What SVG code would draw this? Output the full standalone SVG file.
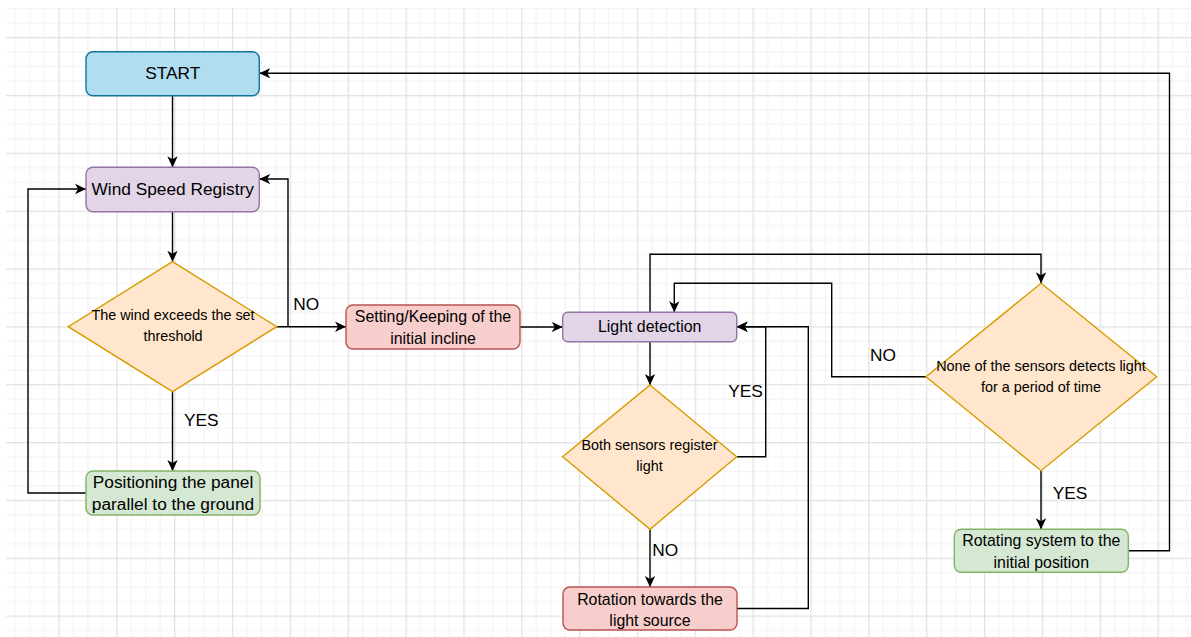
<svg xmlns="http://www.w3.org/2000/svg" width="1191" height="637" viewBox="0 0 1191 637">
  <defs>
    <pattern id="grid" patternUnits="userSpaceOnUse" x="0.5" y="37" width="57.85" height="57.85">
      <rect x="14.46" y="0" width="1.2" height="57.85" fill="#f3f3f3"/>
      <rect x="28.93" y="0" width="1.2" height="57.85" fill="#f3f3f3"/>
      <rect x="43.39" y="0" width="1.2" height="57.85" fill="#f3f3f3"/>
      <rect x="0" y="14.46" width="57.85" height="1.2" fill="#f3f3f3"/>
      <rect x="0" y="28.93" width="57.85" height="1.2" fill="#f3f3f3"/>
      <rect x="0" y="43.39" width="57.85" height="1.2" fill="#f3f3f3"/>
      <rect x="0" y="0" width="1.3" height="57.85" fill="#e2e2e2"/>
      <rect x="0" y="0" width="57.85" height="1.3" fill="#e2e2e2"/>
    </pattern>
    <marker id="arrow" markerUnits="userSpaceOnUse" markerWidth="12" markerHeight="12" viewBox="0 0 12 12" refX="11" refY="6" orient="auto">
      <path d="M0,0.8 L11,6 L0,11.2 L3,6 Z" fill="#000"/>
    </marker>
    <style>
      .conn { fill: none; stroke: #000; stroke-width: 1.4; }
      .arr { marker-end: url(#arrow); }
      .box { stroke-width: 1.4; }
      .blue { fill: #b1ddf0; stroke: #10739e; }
      .purple { fill: #e1d5e7; stroke: #9673a6; }
      .green { fill: #d5e8d4; stroke: #82b366; }
      .red { fill: #f8cecc; stroke: #b85450; }
      .orange { fill: #ffe6cc; stroke: #d79b00; }
      text { font-family: "Liberation Sans", Arial, sans-serif; fill: #000; text-anchor: middle; }
      .big { font-size: 17.3px; }
      .mid { font-size: 15.9px; }
      .small { font-size: 14.4px; }
      .lbl { font-size: 17.3px; text-anchor: start; }
    </style>
  </defs>

  <!-- canvas background with grid -->
  <rect x="0" y="0" width="1191" height="637" fill="#ffffff"/>
  <rect x="6" y="8" width="1185" height="629" fill="url(#grid)"/>

  <!-- connectors -->
  <g id="connectors">
    <path class="conn arr" d="M172.5,95.7 V167.3"/>
    <path class="conn arr" d="M172.5,211.7 V261.7"/>
    <path class="conn arr" d="M172.5,391.7 V471"/>
    <path class="conn arr" d="M86,493 H28 V189 H86"/>
    <path class="conn arr" d="M276.7,326.7 H346"/>
    <path class="conn arr" d="M288,326.7 V179 H259.3"/>
    <path class="conn arr" d="M520,327 H562.7"/>
    <path class="conn arr" d="M650,341.7 V385"/>
    <path class="conn arr" d="M736.7,456.7 H765.7 V326.7 H736.7"/>
    <path class="conn arr" d="M650,529.3 V587"/>
    <path class="conn arr" d="M737,608.5 H808.3 V326.7 H736.7"/>
    <path class="conn arr" d="M650,312.3 V254.3 H1041 V283.3"/>
    <path class="conn arr" d="M926,376.7 H831.7 V283.3 H674.3 V312.3"/>
    <path class="conn arr" d="M1041,470.7 V529.3"/>
    <path class="conn arr" d="M1128.3,550.8 H1169.5 V73.3 H259.3"/>
    <text class="lbl" x="184" y="426.3">YES</text>
    <text class="lbl" x="293.3" y="310.3">NO</text>
    <text class="lbl" x="728.3" y="397">YES</text>
    <text class="lbl" x="652.3" y="556.3">NO</text>
    <text class="lbl" x="870" y="361.3">NO</text>
    <text class="lbl" x="1052.7" y="498.5">YES</text>
  </g>

  <!-- nodes -->
  <g id="start">
    <rect class="box blue" x="86" y="51.7" width="173.3" height="44" rx="7"/>
    <text class="big" x="172.7" y="79">START</text>
  </g>
  <g id="wind-registry">
    <rect class="box purple" x="86" y="167.3" width="173.3" height="44.4" rx="7"/>
    <text class="big" x="172.7" y="195">Wind Speed Registry</text>
  </g>
  <g id="wind-threshold">
    <polygon class="box orange" points="172.5,261.7 276.7,326.7 172.5,391.7 68.3,326.7"/>
    <text class="small" x="173" y="319.5">The wind exceeds the set</text>
    <text class="small" x="173" y="341.2">threshold</text>
  </g>
  <g id="parallel-position">
    <rect class="box green" x="86" y="471" width="174" height="44" rx="7"/>
    <text class="big" x="173" y="488.4">Positioning the panel</text>
    <text class="big" x="173" y="510">parallel to the ground</text>
  </g>
  <g id="initial-incline">
    <rect class="box red" x="346" y="305" width="174" height="44" rx="7"/>
    <text class="mid" x="433" y="322.4">Setting/Keeping of the</text>
    <text class="mid" x="433" y="344">initial incline</text>
  </g>
  <g id="light-detection">
    <rect class="box purple" x="562.7" y="312.3" width="174" height="29.4" rx="5"/>
    <text class="mid" x="649.7" y="332.4">Light detection</text>
  </g>
  <g id="both-sensors">
    <polygon class="box orange" points="650,385 736.7,456.7 650,529.3 562.7,456.7"/>
    <text class="small" x="649.5" y="450.2">Both sensors register</text>
    <text class="small" x="649.5" y="471">light</text>
  </g>
  <g id="rotate-to-light">
    <rect class="box red" x="563" y="587" width="174" height="43" rx="7"/>
    <text class="mid" x="650" y="604.7">Rotation towards the</text>
    <text class="mid" x="650" y="625.7">light source</text>
  </g>
  <g id="no-light">
    <polygon class="box orange" points="1041,283.3 1156.7,376.7 1041,470.7 926,376.7"/>
    <text class="small" x="1041" y="371">None of the sensors detects light</text>
    <text class="small" x="1041" y="392">for a period of time</text>
  </g>
  <g id="rotate-initial">
    <rect class="box green" x="954.3" y="529.3" width="174" height="43" rx="7"/>
    <text class="mid" x="1041.3" y="546.4">Rotating system to the</text>
    <text class="mid" x="1041.3" y="568">initial position</text>
  </g>
</svg>
